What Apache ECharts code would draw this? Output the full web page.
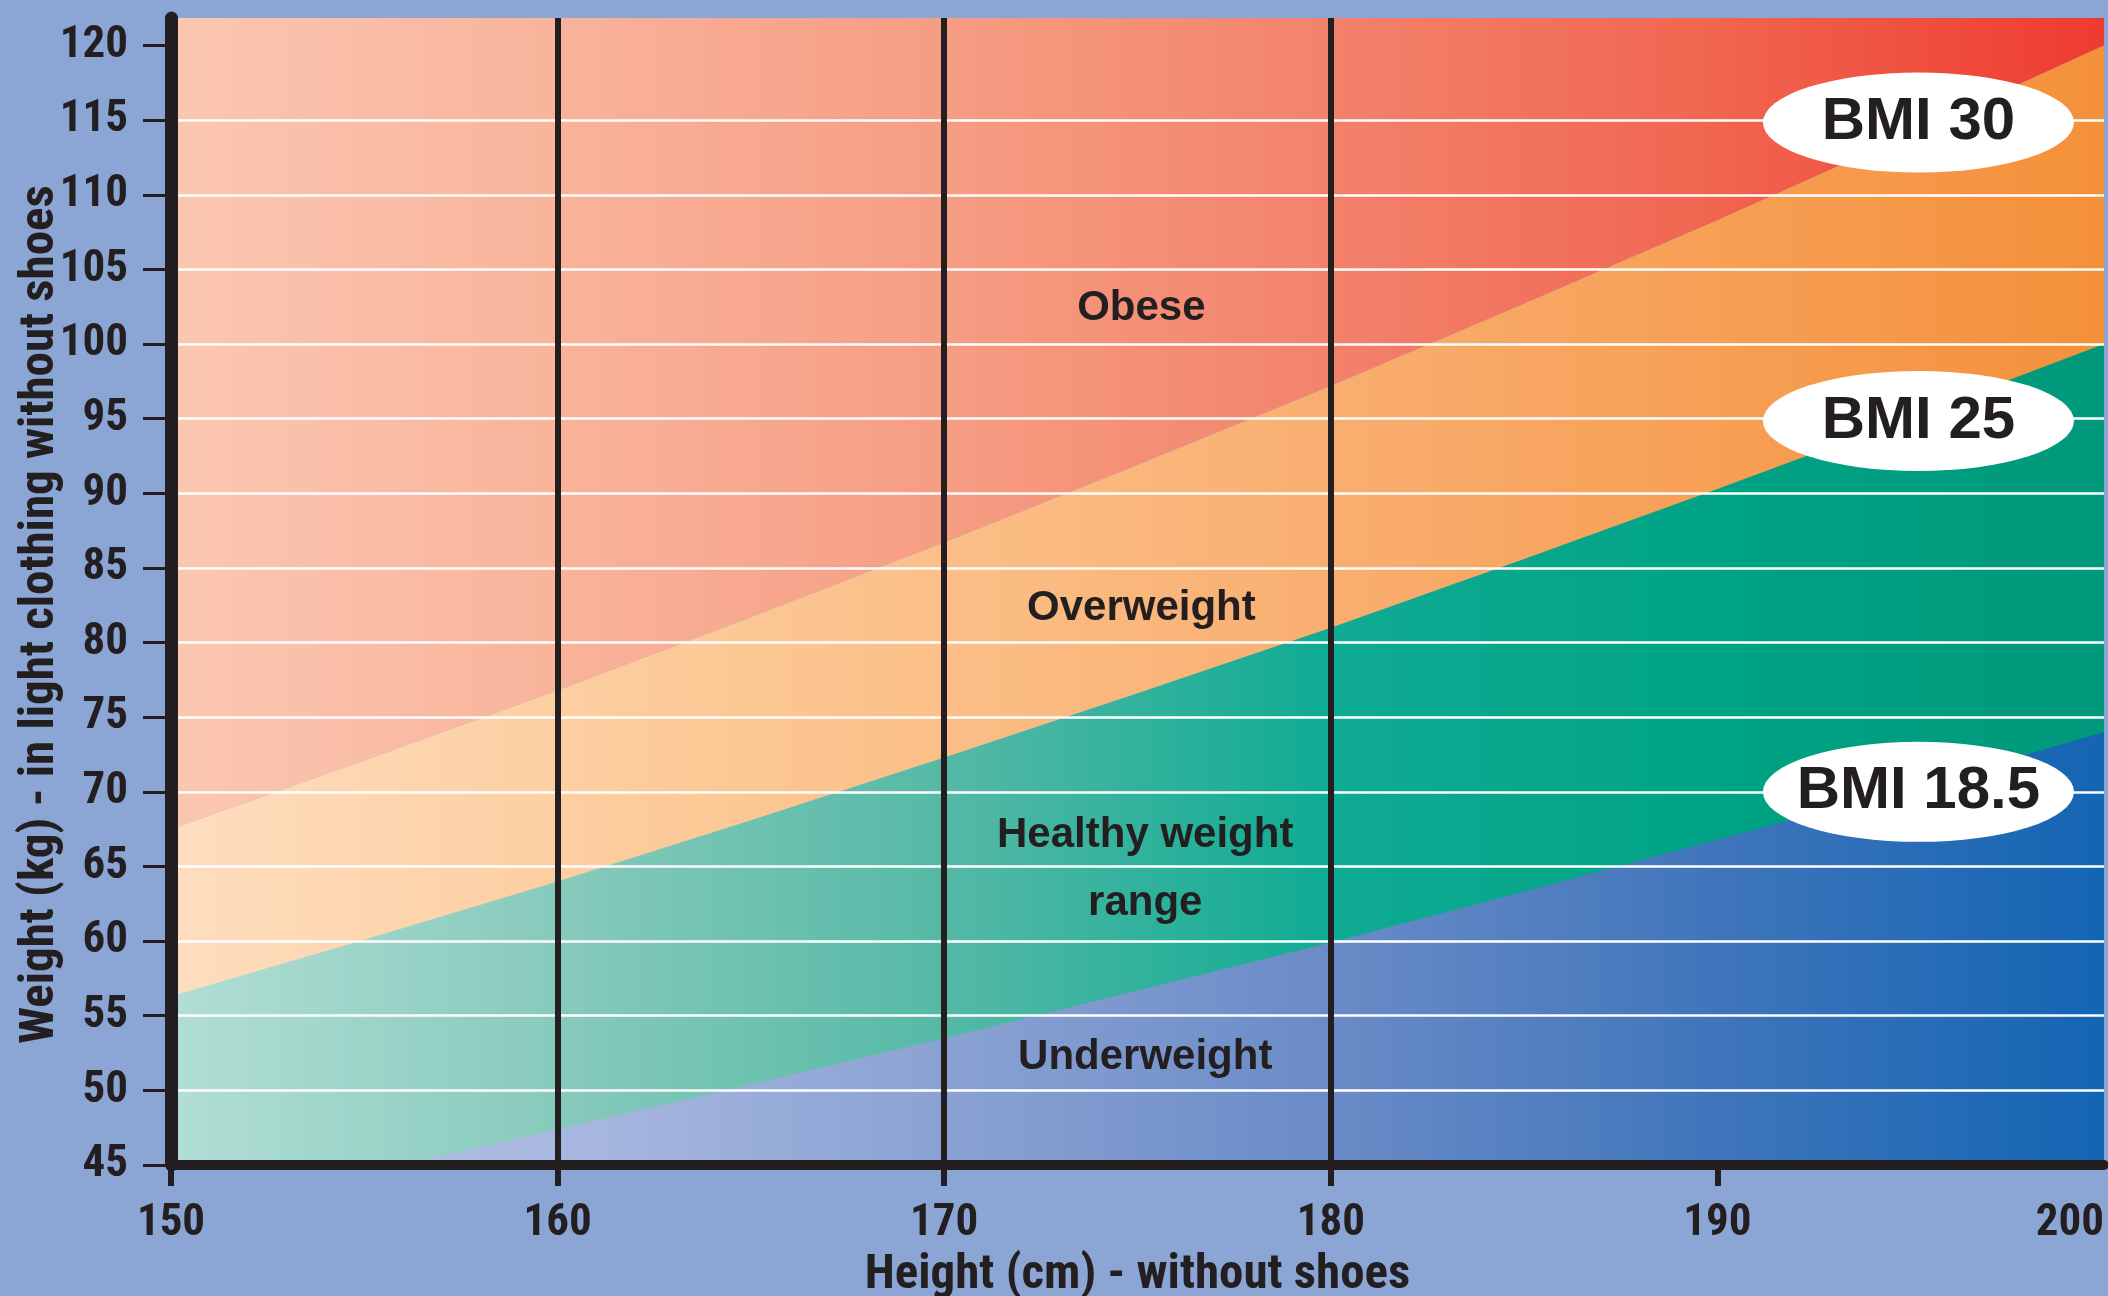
<!DOCTYPE html>
<html>
<head>
<meta charset="utf-8">
<script src="https://cdn.jsdelivr.net/npm/echarts@6/dist/echarts.min.js"></script>
<style>
html,body{margin:0;padding:0;background:#8ba5d4;}
#chart{width:2108px;height:1296px;}
</style>
</head>
<body>
<div id="chart"></div>
<script>
// ---- data ----
const heights = [150, 155, 160, 165, 170, 175, 180, 185, 190, 195, 200];
const bmi30Weights = [67.5, 72.1, 76.8, 81.7, 86.7, 91.9, 97.2, 102.7, 108.3, 114.1, 120.0];
const bmi25Weights = [56.3, 60.1, 64.0, 68.1, 72.3, 76.6, 81.0, 85.6, 90.3, 95.1, 100.0];
const bmi185Weights = [41.6, 44.4, 47.4, 50.4, 53.5, 56.7, 59.9, 63.3, 66.8, 70.3, 74.0];
const weightTicks = [45, 50, 55, 60, 65, 70, 75, 80, 85, 90, 95, 100, 105, 110, 115, 120];
const heightTicks = [150, 160, 170, 180, 190, 200];
const zoneNames = ['Obese', 'Overweight', 'Healthy weight\nrange', 'Underweight'];
const bmiBadges = ['BMI 30', 'BMI 25', 'BMI 18.5'];

const pairs = (ys) => heights.map((h, i) => [h, ys[i]]);
const grad = (stops) => ({type: 'linear', x: 0, y: 0, x2: 1, y2: 0,
  colorStops: stops.map(s => ({offset: s[0], color: s[1]}))});

const INK = '#231f20';
const AXIS_FONT = '"Liberation Sans Narrow", "Roboto Condensed", "DejaVu Sans Condensed", "Liberation Sans", sans-serif';
const LABEL_FONT = '"Liberation Sans", Arial, sans-serif';
const ellipse = 'path://M0,50 A100,50 0 1,1 200,50 A100,50 0 1,1 0,50 Z';

function areaSeries(name, ys, origin, fill) {
  return {
    name, type: 'line', data: pairs(ys), showSymbol: false, symbol: 'none',
    lineStyle: {width: 0}, areaStyle: {origin, color: fill, opacity: 1},
    z: 2, silent: true, clip: true
  };
}

const option = {
  animation: false,
  backgroundColor: '#8ba5d4',
  grid: {left: 171, right: 4, top: 18, bottom: 131, containLabel: false, outerBoundsMode: 'none'},
  xAxis: {
    type: 'value', min: heightTicks[0], max: heightTicks[heightTicks.length - 1], interval: 10,
    z: 6,
    name: 'Height (cm) - without shoes', nameLocation: 'middle', nameGap: 79,
    nameTextStyle: {fontFamily: AXIS_FONT, fontWeight: 'bold', fontSize: 49, color: INK},
    axisLine: {show: true, onZero: false, lineStyle: {color: INK, width: 10}},
    axisTick: {show: true, length: 21, lineStyle: {color: INK, width: 6},
      customValues: heightTicks.slice(0, -1)},
    axisLabel: {margin: 36, fontFamily: AXIS_FONT, fontWeight: 'bold', fontSize: 45, color: INK,
      alignMaxLabel: 'right', customValues: heightTicks},
    splitLine: {show: true, showMinLine: false, showMaxLine: false, lineStyle: {color: INK, width: 6}}
  },
  yAxis: {
    type: 'value', min: weightTicks[0], max: 121.85, interval: 5,
    z: 5,
    name: 'Weight (kg) - in light clothing without shoes', nameLocation: 'middle', nameGap: 106,
    nameMoveOverlap: false,
    nameTextStyle: {fontFamily: AXIS_FONT, fontWeight: 'bold', fontSize: 49, color: INK,
      padding: [0, 46, 0, 0]},
    axisLine: {show: true, onZero: false, lineStyle: {color: INK, width: 13}},
    axisTick: {show: true, length: 28, lineStyle: {color: INK, width: 3}, customValues: weightTicks},
    axisLabel: {margin: 43, fontFamily: AXIS_FONT, fontWeight: 'bold', fontSize: 45, color: INK,
      customValues: weightTicks},
    splitLine: {show: true, showMinLine: false, showMaxLine: false, lineStyle: {color: '#ffffff', width: 2.5}}
  },
  series: [
    areaSeries('Obese', bmi30Weights, 'end',
      grad([[0, '#fbc7b1'], [0.2, '#f9b39b'], [0.4, '#f69d83'], [0.6, '#f3826b'], [0.8, '#f16550'], [1, '#ee3b2f']])),
    areaSeries('Overweight', bmi30Weights, 'start',
      grad([[0, '#fedebf'], [0.3, '#fcc793'], [0.6, '#f9ae70'], [1, '#f4903a']])),
    areaSeries('Healthy', bmi25Weights, 'start',
      grad([[0, '#b2ded5'], [0.2, '#87cabc'], [0.4, '#55b9a6'], [0.6, '#0fab93'], [0.8, '#00a385'], [1, '#00987a']])),
    areaSeries('Underweight', bmi185Weights, 'start',
      grad([[0, '#b8c2e6'], [0.2, '#a9b8e0'], [0.4, '#8aa2d3'], [0.6, '#6a8bc7'], [0.8, '#3f75bb'], [1, '#1365b3']])),
    {
      name: 'zones', type: 'scatter', z: 8, silent: true, symbolSize: 0,
      itemStyle: {opacity: 1},
      data: [
        {value: [175.1, 102.4], name: zoneNames[0]},
        {value: [175.1, 82.3], name: zoneNames[1]},
        {value: [175.2, 64.8], name: zoneNames[2]},
        {value: [175.2, 52.2], name: zoneNames[3]}
      ],
      label: {show: true, position: 'inside', formatter: '{b}', color: INK,
        fontFamily: LABEL_FONT, fontWeight: 'bold', fontSize: 42, lineHeight: 68}
    },
    {
      name: 'badges', type: 'scatter', z: 9, silent: true, symbol: ellipse,
      itemStyle: {color: '#ffffff', opacity: 1},
      symbolSize: [311, 100],
      data: [
        {value: [195.2, 114.85], name: bmiBadges[0]},
        {value: [195.2, 94.85], name: bmiBadges[1]},
        {value: [195.2, 70.0], name: bmiBadges[2]}
      ],
      label: {show: true, position: 'inside', formatter: '{b}', color: INK,
        fontFamily: LABEL_FONT, fontWeight: 'bold', fontSize: 60}
    }
  ]
};

const chart = echarts.init(document.getElementById('chart'), null, {renderer: 'canvas'});
chart.setOption(option);
</script>
</body>
</html>
